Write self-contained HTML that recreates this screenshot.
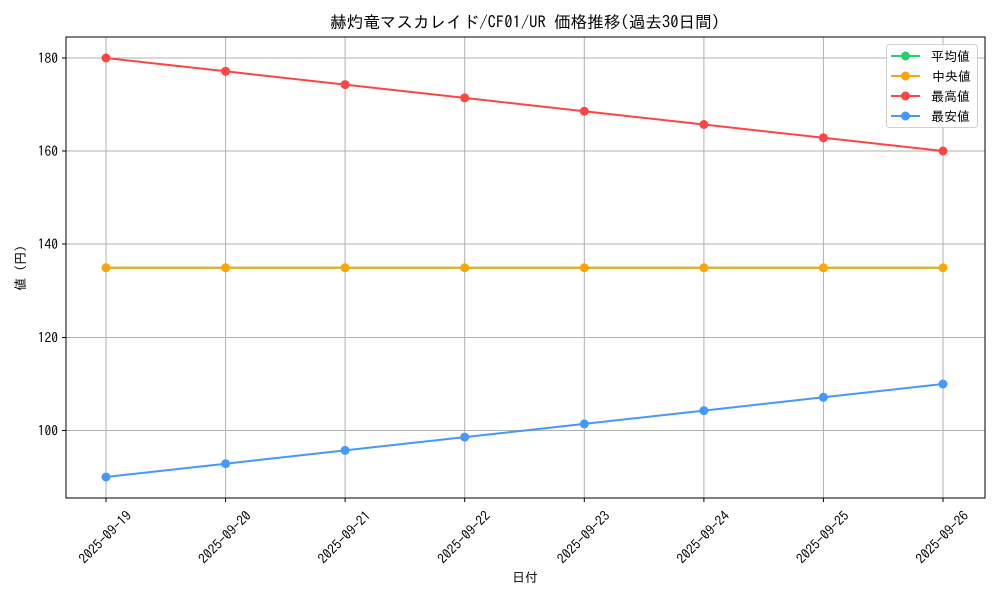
<!DOCTYPE html>
<html><head><meta charset="utf-8"><style>body{margin:0;background:#fff}svg text{font-family:"IPAGothic","Liberation Sans","Noto Sans CJK JP",sans-serif;fill:#000}</style></head>
<body>
<svg width="1000" height="600" xmlns="http://www.w3.org/2000/svg">
<rect width="1000" height="600" fill="#fff"/>
<text x="525" y="28" font-size="16.6" text-anchor="middle">赫灼竜マスカレイド/CF01/UR 価格推移(過去30日間)</text>
<g stroke="#b0b0b0" stroke-width="1">
<line x1="106" y1="37" x2="106" y2="498"/><line x1="225.6" y1="37" x2="225.6" y2="498"/><line x1="345.1" y1="37" x2="345.1" y2="498"/><line x1="464.7" y1="37" x2="464.7" y2="498"/><line x1="584.3" y1="37" x2="584.3" y2="498"/><line x1="703.9" y1="37" x2="703.9" y2="498"/><line x1="823.4" y1="37" x2="823.4" y2="498"/><line x1="943" y1="37" x2="943" y2="498"/>
<line x1="66" y1="58" x2="985" y2="58"/><line x1="66" y1="151" x2="985" y2="151"/><line x1="66" y1="244" x2="985" y2="244"/><line x1="66" y1="337.5" x2="985" y2="337.5"/><line x1="66" y1="430.5" x2="985" y2="430.5"/>
</g>
<rect x="66" y="37" width="919" height="461" fill="none" stroke="#000" stroke-width="1"/>
<g stroke="#000"><line x1="62" y1="58" x2="66" y2="58"/><line x1="62" y1="151" x2="66" y2="151"/><line x1="62" y1="244" x2="66" y2="244"/><line x1="62" y1="337.5" x2="66" y2="337.5"/><line x1="62" y1="430.5" x2="66" y2="430.5"/>
<line x1="106" y1="498" x2="106" y2="502"/><line x1="225.6" y1="498" x2="225.6" y2="502"/><line x1="345.1" y1="498" x2="345.1" y2="502"/><line x1="464.7" y1="498" x2="464.7" y2="502"/><line x1="584.3" y1="498" x2="584.3" y2="502"/><line x1="703.9" y1="498" x2="703.9" y2="502"/><line x1="823.4" y1="498" x2="823.4" y2="502"/><line x1="943" y1="498" x2="943" y2="502"/></g>
<g font-size="13.5" text-anchor="end"><text x="58" y="63">180</text><text x="58" y="156">160</text><text x="58" y="249">140</text><text x="58" y="342.5">120</text><text x="58" y="435.5">100</text></g>
<g font-size="13.5" text-anchor="middle" dominant-baseline="central">
<text transform="translate(105,537) rotate(-45)">2025-09-19</text>
<text transform="translate(224.6,537) rotate(-45)">2025-09-20</text>
<text transform="translate(344.1,537) rotate(-45)">2025-09-21</text>
<text transform="translate(463.7,537) rotate(-45)">2025-09-22</text>
<text transform="translate(583.3,537) rotate(-45)">2025-09-23</text>
<text transform="translate(702.9,537) rotate(-45)">2025-09-24</text>
<text transform="translate(822.4,537) rotate(-45)">2025-09-25</text>
<text transform="translate(942,537) rotate(-45)">2025-09-26</text>
</g>
<text x="525" y="582" font-size="13" text-anchor="middle">日付</text>
<text transform="translate(25,268) rotate(-90)" font-size="13" text-anchor="middle">値 (円)</text>
<g fill="none" stroke-width="2">
<polyline stroke="#2ecc71" points="106,267.75 943,267.75"/>
<polyline stroke="#ffa500" points="106,267.75 225.6,267.75 345.1,267.75 464.7,267.75 584.3,267.75 703.9,267.75 823.4,267.75 943,267.75"/>
<polyline stroke="#ff4444" points="106,58 225.6,71.3 345.1,84.6 464.7,97.9 584.3,111.2 703.9,124.5 823.4,137.8 943,151"/>
<polyline stroke="#4499ff" points="106,477 225.6,463.7 345.1,450.4 464.7,437.1 584.3,423.9 703.9,410.6 823.4,397.3 943,384"/>
</g>
<g fill="#ffa500"><circle cx="106" cy="267.75" r="4.5"/><circle cx="225.6" cy="267.75" r="4.5"/><circle cx="345.1" cy="267.75" r="4.5"/><circle cx="464.7" cy="267.75" r="4.5"/><circle cx="584.3" cy="267.75" r="4.5"/><circle cx="703.9" cy="267.75" r="4.5"/><circle cx="823.4" cy="267.75" r="4.5"/><circle cx="943" cy="267.75" r="4.5"/></g>
<g fill="#ff4444"><circle cx="106" cy="58" r="4.5"/><circle cx="225.6" cy="71.3" r="4.5"/><circle cx="345.1" cy="84.6" r="4.5"/><circle cx="464.7" cy="97.9" r="4.5"/><circle cx="584.3" cy="111.2" r="4.5"/><circle cx="703.9" cy="124.5" r="4.5"/><circle cx="823.4" cy="137.8" r="4.5"/><circle cx="943" cy="151" r="4.5"/></g>
<g fill="#4499ff"><circle cx="106" cy="477" r="4.5"/><circle cx="225.6" cy="463.7" r="4.5"/><circle cx="345.1" cy="450.4" r="4.5"/><circle cx="464.7" cy="437.1" r="4.5"/><circle cx="584.3" cy="423.9" r="4.5"/><circle cx="703.9" cy="410.6" r="4.5"/><circle cx="823.4" cy="397.3" r="4.5"/><circle cx="943" cy="384" r="4.5"/></g>
<rect x="886.5" y="44.5" width="91" height="83" rx="3" fill="#fff" fill-opacity="0.8" stroke="#d0d0d0"/>
<g stroke-width="2">
<line x1="891" y1="56" x2="920" y2="56" stroke="#2ecc71"/><circle cx="905.5" cy="56" r="4.5" fill="#2ecc71"/>
<line x1="891" y1="76" x2="920" y2="76" stroke="#ffa500"/><circle cx="905.5" cy="76" r="4.5" fill="#ffa500"/>
<line x1="891" y1="96" x2="920" y2="96" stroke="#ff4444"/><circle cx="905.5" cy="96" r="4.5" fill="#ff4444"/>
<line x1="891" y1="116" x2="920" y2="116" stroke="#4499ff"/><circle cx="905.5" cy="116" r="4.5" fill="#4499ff"/>
</g>
<g font-size="13"><text x="931" y="61">平均値</text><text x="932" y="81">中央値</text><text x="931" y="101">最高値</text><text x="931" y="121">最安値</text></g>
</svg>
</body></html>
